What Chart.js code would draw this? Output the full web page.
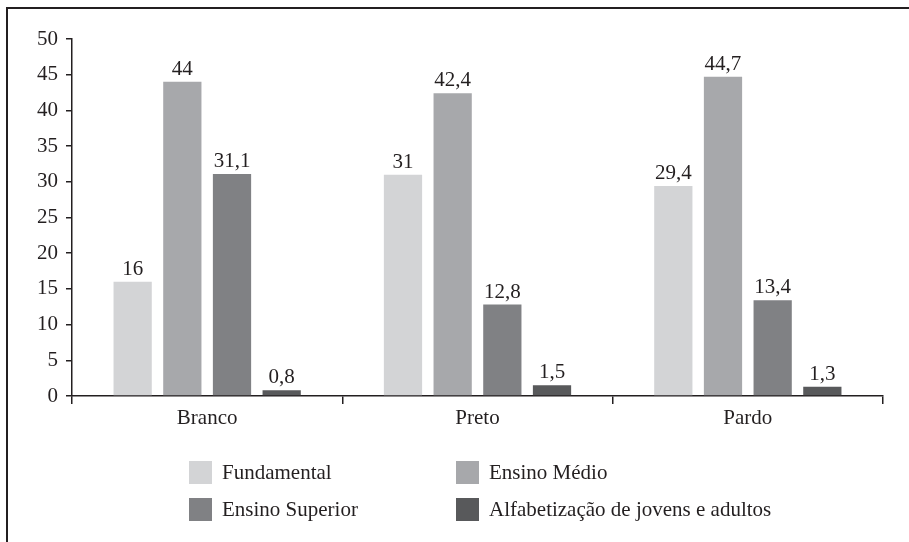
<!DOCTYPE html>
<html lang="pt-BR">
<head>
<meta charset="utf-8">
<script src="https://cdn.jsdelivr.net/npm/chart.js@4/dist/chart.umd.min.js"></script>
<style>
  html, body { margin: 0; padding: 0; background: #fff; }
  #wrap { position: relative; width: 909px; height: 542px; overflow: hidden; }
  #frame { position: absolute; left: 6px; top: 7px; width: 960px; height: 600px;
           border-left: 2px solid #231f20; border-top: 2px solid #231f20; }
  canvas { position: absolute; left: 0; top: 0; }
  #legenda { position: absolute; left: 189px; top: 461px; display: grid;
             grid-template-columns: 267px auto; row-gap: 14px;
             font-family: "Liberation Serif", "DejaVu Serif", serif; font-size: 21px; color: #231f20; }
  .item { display: flex; align-items: center; height: 23px; white-space: nowrap; }
  .box { width: 23px; height: 23px; margin-right: 10px; flex: none; }
</style>
</head>
<body>
<div id="wrap">
  <div id="frame"></div>
  <canvas id="grafico" width="909" height="542"></canvas>
  <div id="legenda"></div>
</div>
<script>
const categorias = ['Branco', 'Preto', 'Pardo'];
const series = ['Fundamental', 'Ensino Médio', 'Ensino Superior', 'Alfabetização de jovens e adultos'];
const fundamental = [16, 31, 29.4];
const ensinoMedio = [44, 42.4, 44.7];
const ensinoSuperior = [31.1, 12.8, 13.4];
const alfabetizacao = [0.8, 1.5, 1.3];
const cores = ['#d3d4d6', '#a7a8ab', '#808184', '#58595b'];

const fonte = '"Liberation Serif", "DejaVu Serif", serif';
const escuro = '#231f20';
const virgula = v => String(v).replace('.', ',');

// rótulos de valor acima das barras
const rotulos = {
    id: 'rotulos',
    afterDatasetsDraw(chart) {
        const c = chart.ctx;
        c.save();
        c.font = '21px ' + fonte;
        c.fillStyle = escuro;
        c.textAlign = 'center';
        c.textBaseline = 'alphabetic';
        chart.data.datasets.forEach((ds, i) => {
            chart.getDatasetMeta(i).data.forEach((bar, j) => {
                c.fillText(virgula(ds.data[j]), bar.x, bar.y - 7);
            });
        });
        c.restore();
    }
};

const dados = [fundamental, ensinoMedio, ensinoSuperior, alfabetizacao];

new Chart(document.getElementById('grafico'), {
    type: 'bar',
    data: {
        labels: categorias,
        datasets: series.map((nome, i) => ({
            label: nome,
            data: dados[i],
            backgroundColor: cores[i],
            borderWidth: 0,
            barPercentage: 0.77,
            categoryPercentage: 0.735
        }))
    },
    options: {
        responsive: false,
        animation: false,
        devicePixelRatio: 1,
        layout: { padding: { left: 0, right: 26, top: 39, bottom: 0 } },
        plugins: {
            legend: { display: false },
            tooltip: { enabled: false }
        },
        scales: {
            x: {
                afterFit: s => { s.height = 146; },
                grid: { offset: true, drawOnChartArea: false, tickLength: 8, color: escuro, lineWidth: 1.5 },
                border: { color: escuro, width: 1.5 },
                ticks: { color: escuro, font: { family: fonte, size: 21 }, padding: 2 }
            },
            y: {
                min: 0,
                max: 50,
                afterFit: s => { s.width = 72; },
                grid: { drawOnChartArea: false, tickLength: 6, color: escuro, lineWidth: 1.5 },
                border: { color: escuro, width: 1.5 },
                ticks: { stepSize: 5, color: escuro, font: { family: fonte, size: 21 }, padding: 8 }
            }
        }
    },
    plugins: [rotulos]
});

const legenda = document.getElementById('legenda');
series.forEach((nome, i) => {
    const item = document.createElement('div');
    item.className = 'item';
    item.innerHTML = '<span class="box" style="background:' + cores[i] + '"></span>' + nome;
    legenda.appendChild(item);
});
</script>
</body>
</html>
